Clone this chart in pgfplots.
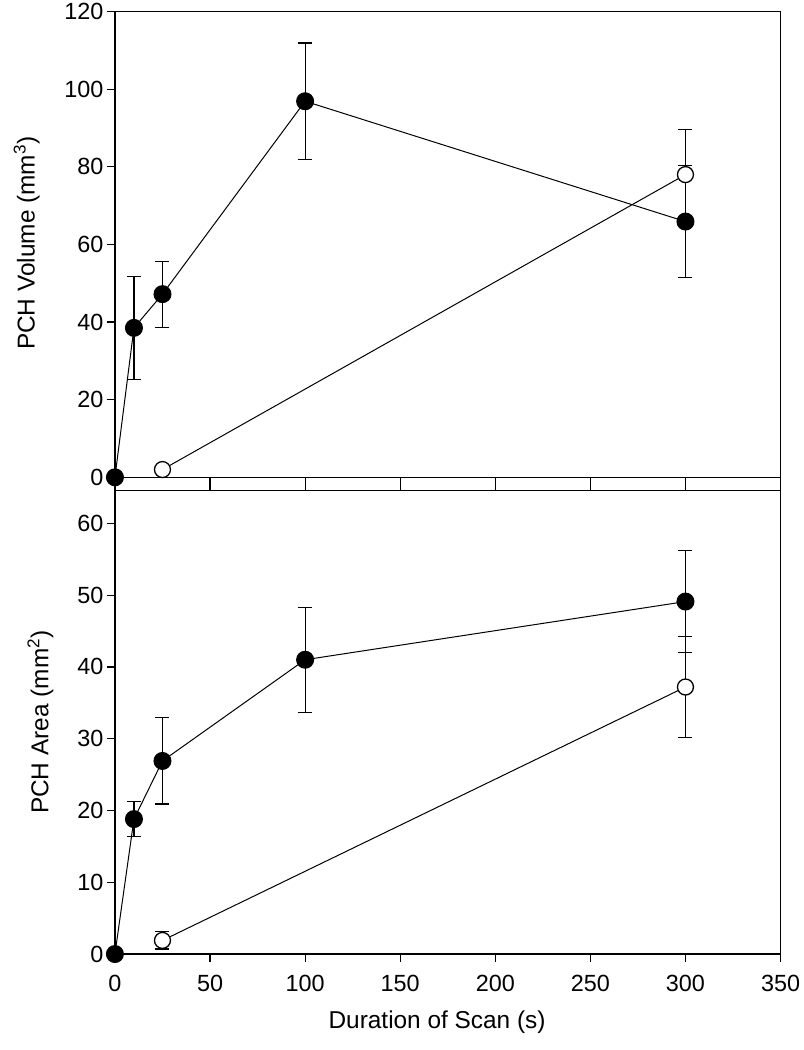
\documentclass[border=0pt]{standalone}
\usepackage{fontspec}
\setmainfont{Liberation Sans}
\usepackage{pgfplots}
\pgfplotsset{compat=1.18}
\pgfplotstableread{
x y e
0 0 0
10 38.5 13.3
25 47.2 8.5
100 96.9 15.0
300 65.9 14.5
}\volfilled
\pgfplotstableread{
x y e
25 2.0 0.5
300 78.0 11.6
}\volopen
\pgfplotstableread{
x y e
0 0 0
10 18.8 2.4
25 26.9 6.0
100 41.0 7.3
300 49.1 7.1
}\areafilled
\pgfplotstableread{
x y e
25 1.9 1.2
300 37.2 7.0
}\areaopen
\begin{document}
\begin{tikzpicture}[x=1bp,y=1bp]
\path (0,0) rectangle (803,1050);
\pgfplotsset{
  common/.style={
    scale only axis, width=666bp, anchor=south west,
    xmin=0, xmax=350,
    clip=false,
    axis line style={line width=1.2bp},
    tick style={line width=1.2bp, black},
    major tick length=8bp,
    tick align=outside,
    ytick pos=left,
    /pgf/number format/assume math mode=true,
    tick label style={font=\fontsize{23.5}{28}\selectfont},
  },
  filled/.style={black, line width=1bp, mark=*, mark size=8.5bp,
    mark options={fill=black, draw=black},
    error bars/.cd, y dir=both, y explicit,
    error bar style={line width=1.1bp, black},
    error mark options={rotate=90, mark size=7bp, line width=1.1bp, black}},
  open/.style={black, line width=1bp, mark=*, mark size=8bp,
    mark options={fill=white, draw=black, line width=1.3bp},
    error bars/.cd, y dir=both, y explicit,
    error bar style={line width=1.1bp, black},
    error mark options={rotate=90, mark size=7bp, line width=1.1bp, black}},
}
\begin{axis}[common,
  at={(115bp,560bp)}, height=479bp,
  ymin=-3.35, ymax=120,
  ytick={0,20,...,120},
  xtick=\empty, xtick pos=bottom,
  extra x ticks={50,100,150,200,250,300},
  extra x tick labels={},
  extra x tick style={tick align=inside, major tick length=13bp},
  extra y ticks={0}, extra y tick labels={},
  extra y tick style={grid=major, major grid style={black, line width=1.1bp}, major tick length=0pt},
  ylabel={PCH Volume (mm\textsuperscript{3})},
  every axis y label/.style={at={(axis description cs:-0.1205,0.516)}, rotate=90, anchor=base, font=\fontsize{24.5}{29}\selectfont},
]
\addplot+[filled] table[x=x, y=y, y error=e] {\volfilled};
\addplot+[open] table[x=x, y=y, y error=e] {\volopen};
\end{axis}
\begin{axis}[common,
  at={(115bp,96bp)}, height=464bp,
  ymin=0, ymax=64.6,
  ytick={0,10,...,60},
  xtick={0,50,...,350}, xtick pos=bottom,
  xticklabel style={yshift=-10bp},
  xlabel={Duration of Scan (s)},
  ylabel={PCH Area (mm\textsuperscript{2})},
  every axis y label/.style={at={(axis description cs:-0.1,0.5)}, rotate=90, anchor=base, font=\fontsize{24.5}{29}\selectfont},
  every axis x label/.style={at={(axis description cs:0.484,-0.1466)}, anchor=center, font=\fontsize{24.5}{29}\selectfont},
]
\addplot+[filled] table[x=x, y=y, y error=e] {\areafilled};
\addplot+[open] table[x=x, y=y, y error=e] {\areaopen};
\end{axis}
\end{tikzpicture}
\end{document}
